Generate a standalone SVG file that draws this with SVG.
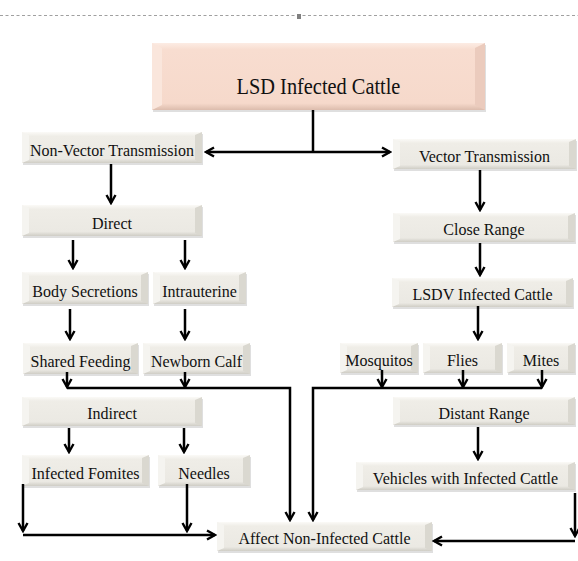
<svg xmlns="http://www.w3.org/2000/svg" width="578" height="561" viewBox="0 0 578 561" font-family="Liberation Serif, DejaVu Serif, serif">
<defs>
<linearGradient id="gg" x1="0" y1="0" x2="0" y2="1">
<stop offset="0" stop-color="#fbfaf7"/><stop offset="0.14" stop-color="#efede7"/><stop offset="0.86" stop-color="#ebe9e3"/><stop offset="1" stop-color="#cfcdc5"/>
</linearGradient>
<linearGradient id="pg" x1="0" y1="0" x2="0" y2="1">
<stop offset="0" stop-color="#fcece4"/><stop offset="0.1" stop-color="#f8ddd0"/><stop offset="0.9" stop-color="#f6d9cb"/><stop offset="1" stop-color="#dcbcad"/>
</linearGradient>
<marker id="ah" viewBox="0 0 12 12" refX="10" refY="6" markerWidth="12" markerHeight="12" markerUnits="userSpaceOnUse" orient="auto-start-reverse">
<path d="M2,1.5 L10,6 L2,10.5" fill="none" stroke="#000" stroke-width="2.4"/>
</marker>
</defs>
<style>
.sh{fill:#b8b8b8;opacity:0.45}
.f{fill:url(#gg)}
.l{fill:#f5f4f0}
.r{fill:#dad8d0}
.pf{fill:url(#pg)}
.pl{fill:#fae6dc}
.pr{fill:#ebcbbd}
text{font-family:'Liberation Serif',serif;font-size:16px;fill:#111;text-anchor:middle}
.c{fill:none;stroke:#000;stroke-width:2.5}
</style>
<line x1="0" y1="15.5" x2="578" y2="15.5" stroke="#a0a0a0" stroke-width="1" stroke-dasharray="3 2.5"/>
<rect x="297" y="14" width="4" height="5" fill="#808080"/>

<g id="title">
<rect class="sh" x="153" y="45" width="333" height="67"/>
<rect class="pf" x="152" y="43" width="333" height="67"/>
<polygon class="pl" points="152,43 162,48 162,105 152,110"/>
<polygon class="pr" points="485,43 475,48 475,105 485,110"/>
<text transform="translate(318.5,94) scale(0.885,1)" x="0" y="0" style="font-size:23px">LSD Infected Cattle</text>
</g>

<g id="nvt">
<rect class="sh" x="23" y="134" width="180" height="31"/>
<rect class="f" x="22" y="132" width="180" height="31"/>
<polygon class="l" points="22,132 29,135 29,160 22,163"/>
<polygon class="r" points="202,132 195,135 195,160 202,163"/>
<text x="112" y="156">Non-Vector Transmission</text>
</g>

<g id="vt">
<rect class="sh" x="394" y="141" width="183" height="30"/>
<rect class="f" x="393" y="139" width="183" height="30"/>
<polygon class="l" points="393,139 400,142 400,166 393,169"/>
<polygon class="r" points="576,139 569,142 569,166 576,169"/>
<text x="484.5" y="162">Vector Transmission</text>
</g>

<g id="direct">
<rect class="sh" x="23" y="207" width="180" height="31"/>
<rect class="f" x="22" y="205" width="180" height="31"/>
<polygon class="l" points="22,205 29,208 29,233 22,236"/>
<polygon class="r" points="202,205 195,208 195,233 202,236"/>
<text x="112" y="229">Direct</text>
</g>

<g id="body">
<rect class="sh" x="23" y="274" width="126" height="32"/>
<rect class="f" x="22" y="272" width="126" height="32"/>
<polygon class="l" points="22,272 29,275 29,301 22,304"/>
<polygon class="r" points="148,272 141,275 141,301 148,304"/>
<text x="85" y="297">Body Secretions</text>
</g>

<g id="intra">
<rect class="sh" x="154" y="274" width="93" height="32"/>
<rect class="f" x="153" y="272" width="93" height="32"/>
<polygon class="l" points="153,272 160,275 160,301 153,304"/>
<polygon class="r" points="246,272 239,275 239,301 246,304"/>
<text x="199.5" y="297">Intrauterine</text>
</g>

<g id="shared">
<rect class="sh" x="24" y="345" width="115" height="31"/>
<rect class="f" x="23" y="343" width="115" height="31"/>
<polygon class="l" points="23,343 30,346 30,371 23,374"/>
<polygon class="r" points="138,343 131,346 131,371 138,374"/>
<text x="80.5" y="367">Shared Feeding</text>
</g>

<g id="newborn">
<rect class="sh" x="144" y="345" width="107" height="31"/>
<rect class="f" x="143" y="343" width="107" height="31"/>
<polygon class="l" points="143,343 150,346 150,371 143,374"/>
<polygon class="r" points="250,343 243,346 243,371 250,374"/>
<text x="196.5" y="367">Newborn Calf</text>
</g>

<g id="indirect">
<rect class="sh" x="23" y="399" width="180" height="29"/>
<rect class="f" x="22" y="397" width="180" height="29"/>
<polygon class="l" points="22,397 29,400 29,423 22,426"/>
<polygon class="r" points="202,397 195,400 195,423 202,426"/>
<text x="112" y="419">Indirect</text>
</g>

<g id="fomites">
<rect class="sh" x="23" y="457" width="127" height="31"/>
<rect class="f" x="22" y="455" width="127" height="31"/>
<polygon class="l" points="22,455 29,458 29,483 22,486"/>
<polygon class="r" points="149,455 142,458 142,483 149,486"/>
<text x="85.5" y="479">Infected Fomites</text>
</g>

<g id="needles">
<rect class="sh" x="159" y="457" width="92" height="31"/>
<rect class="f" x="158" y="455" width="92" height="31"/>
<polygon class="l" points="158,455 165,458 165,483 158,486"/>
<polygon class="r" points="250,455 243,458 243,483 250,486"/>
<text x="204" y="479">Needles</text>
</g>

<g id="affect">
<rect class="sh" x="218" y="524" width="215" height="29"/>
<rect class="f" x="217" y="522" width="215" height="29"/>
<polygon class="l" points="217,522 224,525 224,548 217,551"/>
<polygon class="r" points="432,522 425,525 425,548 432,551"/>
<text x="324.5" y="544">Affect Non-Infected Cattle</text>
</g>

<g id="close">
<rect class="sh" x="394" y="215" width="182" height="29"/>
<rect class="f" x="393" y="213" width="182" height="29"/>
<polygon class="l" points="393,213 400,216 400,239 393,242"/>
<polygon class="r" points="575,213 568,216 568,239 575,242"/>
<text x="484" y="235">Close Range</text>
</g>

<g id="lsdv">
<rect class="sh" x="393" y="280" width="181" height="29"/>
<rect class="f" x="392" y="278" width="181" height="29"/>
<polygon class="l" points="392,278 399,281 399,304 392,307"/>
<polygon class="r" points="573,278 566,281 566,304 573,307"/>
<text x="482.5" y="300">LSDV Infected Cattle</text>
</g>

<g id="mosquitos">
<rect class="sh" x="341" y="345" width="78" height="30"/>
<rect class="f" x="340" y="343" width="78" height="30"/>
<polygon class="l" points="340,343 347,346 347,370 340,373"/>
<polygon class="r" points="418,343 411,346 411,370 418,373"/>
<text x="379" y="366">Mosquitos</text>
</g>

<g id="flies">
<rect class="sh" x="424" y="345" width="79" height="30"/>
<rect class="f" x="423" y="343" width="79" height="30"/>
<polygon class="l" points="423,343 430,346 430,370 423,373"/>
<polygon class="r" points="502,343 495,346 495,370 502,373"/>
<text x="462.5" y="366">Flies</text>
</g>

<g id="mites">
<rect class="sh" x="508" y="345" width="68" height="30"/>
<rect class="f" x="507" y="343" width="68" height="30"/>
<polygon class="l" points="507,343 514,346 514,370 507,373"/>
<polygon class="r" points="575,343 568,346 568,370 575,373"/>
<text x="541" y="366">Mites</text>
</g>

<g id="distant">
<rect class="sh" x="394" y="399" width="182" height="28"/>
<rect class="f" x="393" y="397" width="182" height="28"/>
<polygon class="l" points="393,397 400,400 400,422 393,425"/>
<polygon class="r" points="575,397 568,400 568,422 575,425"/>
<text x="484" y="419">Distant Range</text>
</g>

<g id="vehicles">
<rect class="sh" x="357" y="464" width="219" height="28"/>
<rect class="f" x="356" y="462" width="219" height="28"/>
<polygon class="l" points="356,462 363,465 363,487 356,490"/>
<polygon class="r" points="575,462 568,465 568,487 575,490"/>
<text x="465.5" y="484">Vehicles with Infected Cattle</text>
</g>

<g id="connectors">
<path class="c" d="M313,110 V152"/>
<path class="c" d="M206,152 H390" marker-start="url(#ah)" marker-end="url(#ah)"/>
<path class="c" d="M111,164 V203" marker-end="url(#ah)"/>
<path class="c" d="M73,240 V268" marker-end="url(#ah)"/>
<path class="c" d="M185,240 V268" marker-end="url(#ah)"/>
<path class="c" d="M70,309 V339" marker-end="url(#ah)"/>
<path class="c" d="M185,309 V339" marker-end="url(#ah)"/>
<path class="c" d="M67,372 V387" marker-end="url(#ah)"/>
<path class="c" d="M185,372 V387" marker-end="url(#ah)"/>
<path class="c" d="M67,388 H290 V520" marker-end="url(#ah)"/>
<path class="c" d="M69,428 V452" marker-end="url(#ah)"/>
<path class="c" d="M184,428 V452" marker-end="url(#ah)"/>
<path class="c" d="M23,484 V531" marker-end="url(#ah)"/>
<path class="c" d="M187,484 V531" marker-end="url(#ah)"/>
<path class="c" d="M23,535 H215" marker-end="url(#ah)"/>
<path class="c" d="M480,170 V210" marker-end="url(#ah)"/>
<path class="c" d="M480,243 V275" marker-end="url(#ah)"/>
<path class="c" d="M478,306 V339" marker-end="url(#ah)"/>
<path class="c" d="M382,370 V387" marker-end="url(#ah)"/>
<path class="c" d="M463,370 V387" marker-end="url(#ah)"/>
<path class="c" d="M542,370 V387" marker-end="url(#ah)"/>
<path class="c" d="M542,388 H313 V520" marker-end="url(#ah)"/>
<path class="c" d="M478,427 V459" marker-end="url(#ah)"/>
<path class="c" d="M575,493 V536" marker-end="url(#ah)"/>
<path class="c" d="M575,541 H434" marker-end="url(#ah)"/>
</g>
</svg>
